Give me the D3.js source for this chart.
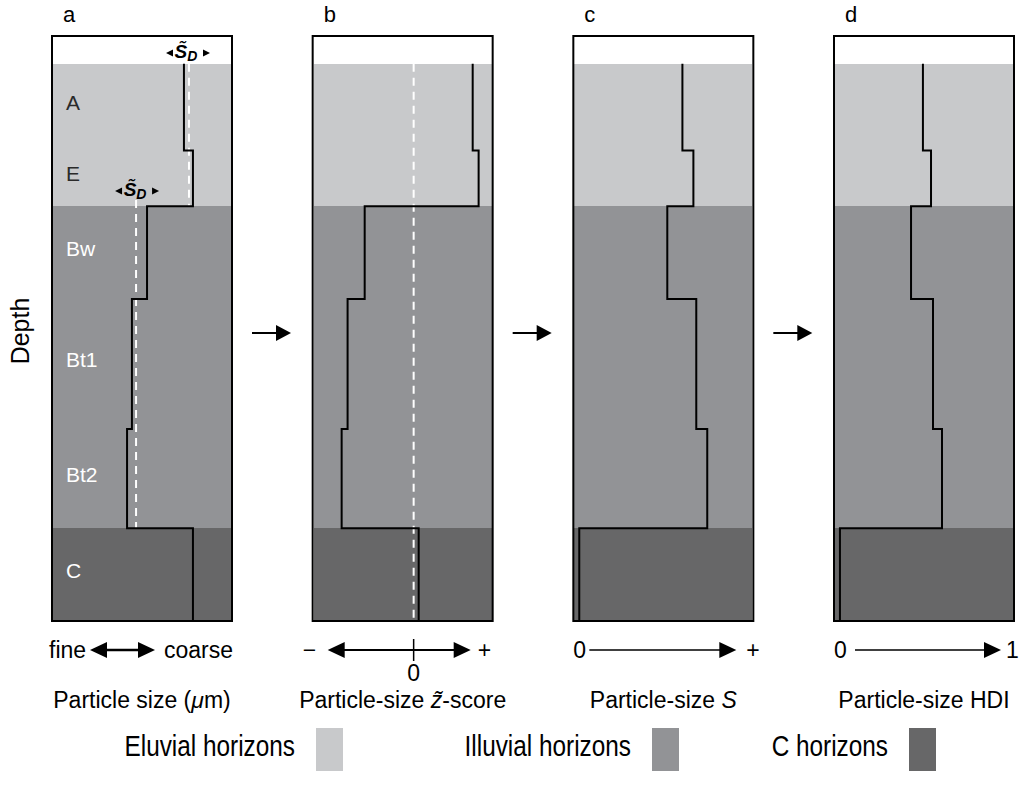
<!DOCTYPE html>
<html>
<head>
<meta charset="utf-8">
<script src="https://cdn.jsdelivr.net/npm/d3@7"></script>
<style>
  body { margin: 0; background: #fff; }
  svg { display: block; font-family: "Liberation Sans", Arial, sans-serif; }
</style>
</head>
<body>
<svg id="chart" width="1021" height="794"></svg>
<script>
// horizons, top to bottom (depth in arbitrary units)
const horizons = ["A", "E", "Bw", "Bt1", "Bt2", "C"];
const horizonTop = [0, 28, 46, 76, 118, 150];
const horizonBottom = [28, 46, 76, 118, 150, 180];
const horizonType = ["eluvial", "eluvial", "illuvial", "illuvial", "illuvial", "C"];

// profile values per panel (0-100 of panel width)
const panelLetters = ["a", "b", "c", "d"];
// title pieces: even index upright, odd index italic
const panelTitles = [
  ["Particle size (", "\u03bc", "m)"],
  ["Particle-size ", "z\u0303", "-score"],
  ["Particle-size ", "S"],
  ["Particle-size HDI"]
];
const sizeValues = [73.3, 78.3, 52.8, 44.4, 41.7, 78.3];
const zscoreValues = [88.9, 92.2, 28.9, 19.4, 16.1, 58.9];
const sValues = [60.6, 66.7, 52.2, 68.3, 74.4, 3.3];
const hdiValues = [49.4, 53.9, 42.8, 55.0, 60.0, 3.3];
const panelValues = [sizeValues, zscoreValues, sValues, hdiValues];

// median lines (dashed) in panel a and zero line in panel b
const medianX = [76.1, 46.7];
const medianFrom = [0, 44];
const medianTo = [46, 150];
const zeroX = 56.1;

const legendLabels = ["Eluvial horizons", "Illuvial horizons", "C horizons"];
const legendTypes = ["eluvial", "illuvial", "C"];

const colors = { eluvial: "#c8c9cb", illuvial: "#929396", C: "#676768" };

const svg = d3.select("#chart");

const panelX = d3.scaleLinear().domain([0, 3]).range([52, 834]);
const vx = d3.scaleLinear().domain([0, 100]).range([0, 180]);
const y = d3.scaleLinear().domain([-9, 180]).range([36, 621]);

const FS = 23; // axis text size

function arrowHead(g, x, yy, dir, len, half) {
  // filled triangle, tip at x, pointing left (dir=-1) or right (dir=1)
  g.append("path")
    .attr("d", `M${x},${yy} L${x - dir * len},${yy - half} L${x - dir * len},${yy + half} Z`)
    .attr("fill", "#000");
}

function sdLabel(g, cx, cy) {
  const t = g.append("text")
    .attr("x", cx - 2).attr("y", cy)
    .attr("text-anchor", "middle")
    .attr("font-size", 19)
    .attr("font-weight", "bold")
    .attr("font-style", "italic")
    .attr("fill", "#000");
  t.append("tspan").text("S\u0303");
  t.append("tspan").attr("font-size", 14).attr("dy", 3).text("D");
  g.append("path").attr("d", `M${cx - 22},${cy - 5} l7,-3.5 l0,7 Z`).attr("fill", "#000");
  g.append("path").attr("d", `M${cx + 22},${cy - 5} l-7,-3.5 l0,7 Z`).attr("fill", "#000");
}

panelValues.forEach((vals, p) => {
  const g = svg.append("g").attr("transform", `translate(${panelX(p)},0)`);

  g.selectAll("rect.hz")
    .data(horizons)
    .join("rect")
    .attr("class", "hz")
    .attr("shape-rendering", "crispEdges")
    .attr("x", 1)
    .attr("width", vx(100) - 2)
    .attr("y", (d, i) => Math.round(y(horizonTop[i])))
    .attr("height", (d, i) => Math.round(y(horizonBottom[i])) - Math.round(y(horizonTop[i])))
    .attr("fill", (d, i) => colors[horizonType[i]]);

  // dashed reference lines
  if (p === 0) {
    medianX.forEach((m, i) => {
      g.append("line")
        .attr("x1", vx(m)).attr("x2", vx(m))
        .attr("y1", y(medianFrom[i])).attr("y2", y(medianTo[i]))
        .attr("stroke", "#fff").attr("stroke-width", 2)
        .attr("stroke-dasharray", "8,6");
    });
  }
  if (p === 1) {
    g.append("line")
      .attr("x1", vx(zeroX)).attr("x2", vx(zeroX))
      .attr("y1", y(0)).attr("y2", y(180))
      .attr("stroke", "#fff").attr("stroke-width", 2)
      .attr("stroke-dasharray", "8,6");
  }

  // step profile
  const pts = [];
  vals.forEach((v, i) => {
    pts.push([v, horizonTop[i]]);
    pts.push([v, horizonBottom[i]]);
  });
  g.append("path")
    .datum(pts)
    .attr("fill", "none")
    .attr("stroke", "#000")
    .attr("stroke-width", 2)
    .attr("d", d3.line().x(d => vx(d[0])).y(d => y(d[1])));

  // frame
  g.append("rect")
    .attr("x", 0).attr("y", y(-9))
    .attr("width", vx(100)).attr("height", y(180) - y(-9))
    .attr("fill", "none").attr("stroke", "#000").attr("stroke-width", 2);

  // panel letter
  g.append("text")
    .attr("x", 11).attr("y", 22)
    .attr("font-size", 22)
    .text(panelLetters[p]);

  // axis title
  const t = g.append("text")
    .attr("x", vx(50)).attr("y", 708)
    .attr("text-anchor", "middle")
    .attr("font-size", FS);
  t.selectAll("tspan")
    .data(panelTitles[p])
    .join("tspan")
    .attr("font-style", (d, i) => i % 2 ? "italic" : "normal")
    .text(d => d);
});

// horizon labels in panel a
svg.append("g")
  .selectAll("text")
  .data(horizons)
  .join("text")
  .attr("x", panelX(0) + 14)
  .attr("y", (d, i) => y((horizonTop[i] + horizonBottom[i]) / 2) + 3)
  .attr("font-size", 21)
  .attr("fill", (d, i) => horizonType[i] === "eluvial" ? "#2a2a2a" : "#fff")
  .text(d => d);

// S_D labels in panel a
const ga = svg.append("g").attr("transform", `translate(${panelX(0)},0)`);
sdLabel(ga, vx(medianX[0]) - 1, 58);
sdLabel(ga, vx(medianX[1]) + 1, 196);

// Depth label
svg.append("text")
  .attr("transform", `translate(29,331) rotate(-90)`)
  .attr("text-anchor", "middle")
  .attr("font-size", 25)
  .text("Depth");

// arrows between panels
[0, 1, 2].forEach(p => {
  const x0 = panelX(p) + vx(100) + 20;
  const g = svg.append("g");
  g.append("line").attr("x1", x0).attr("x2", x0 + 26).attr("y1", 333).attr("y2", 333)
    .attr("stroke", "#000").attr("stroke-width", 2);
  arrowHead(g, x0 + 39, 333, 1, 15, 8);
});

// bottom axis glyphs
const axY = 650;
// panel a: fine <-> coarse
{
  const g = svg.append("g").attr("transform", `translate(${panelX(0)},0)`);
  g.append("text").attr("x", -3).attr("y", axY + 8).attr("font-size", FS).text("fine");
  g.append("line").attr("x1", 50).attr("x2", 90).attr("y1", axY).attr("y2", axY).attr("stroke", "#000").attr("stroke-width", 2.5);
  arrowHead(g, 38, axY, -1, 17, 8);
  arrowHead(g, 103, axY, 1, 17, 8);
  g.append("text").attr("x", vx(100) + 1).attr("y", axY + 8).attr("text-anchor", "end").attr("font-size", FS).text("coarse");
}
// panel b: - <-|-> +
{
  const g = svg.append("g").attr("transform", `translate(${panelX(1)},0)`);
  g.append("text").attr("x", -10).attr("y", axY + 8).attr("font-size", FS).text("\u2212");
  g.append("line").attr("x1", 28).attr("x2", 148).attr("y1", axY).attr("y2", axY).attr("stroke", "#000").attr("stroke-width", 2);
  arrowHead(g, 15, axY, -1, 17, 8);
  arrowHead(g, 158, axY, 1, 17, 8);
  g.append("line").attr("x1", vx(zeroX)).attr("x2", vx(zeroX)).attr("y1", axY - 11).attr("y2", axY + 11).attr("stroke", "#000").attr("stroke-width", 1.5);
  g.append("text").attr("x", vx(zeroX)).attr("y", axY + 31).attr("text-anchor", "middle").attr("font-size", FS).text("0");
  g.append("text").attr("x", 165).attr("y", axY + 8).attr("font-size", FS).text("+");
}
// panel c: 0 ---> +
{
  const g = svg.append("g").attr("transform", `translate(${panelX(2)},0)`);
  g.append("text").attr("x", 0).attr("y", axY + 8).attr("font-size", FS).text("0");
  g.append("line").attr("x1", 16).attr("x2", 150).attr("y1", axY).attr("y2", axY).attr("stroke", "#000").attr("stroke-width", 1.5);
  arrowHead(g, 163, axY, 1, 17, 8);
  g.append("text").attr("x", 173).attr("y", axY + 8).attr("font-size", FS).text("+");
}
// panel d: 0 ---> 1
{
  const g = svg.append("g").attr("transform", `translate(${panelX(3)},0)`);
  g.append("text").attr("x", 0).attr("y", axY + 8).attr("font-size", FS).text("0");
  g.append("line").attr("x1", 21).attr("x2", 155).attr("y1", axY).attr("y2", axY).attr("stroke", "#000").attr("stroke-width", 1.5);
  arrowHead(g, 167, axY, 1, 17, 8);
  g.append("text").attr("x", 172).attr("y", axY + 8).attr("font-size", FS).text("1");
}

// legend (narrow-looking text)
const legendTextEnd = [295, 631, 888];
const leg = svg.append("g");
legendLabels.forEach((lab, i) => {
  leg.append("text")
    .attr("transform", `translate(${legendTextEnd[i]},756) scale(0.84,1)`)
    .attr("text-anchor", "end")
    .attr("font-size", 29)
    .text(lab);
  leg.append("rect")
    .attr("x", legendTextEnd[i] + 21).attr("y", 728)
    .attr("width", 27).attr("height", 43)
    .attr("fill", colors[legendTypes[i]]);
});
</script>
</body>
</html>
